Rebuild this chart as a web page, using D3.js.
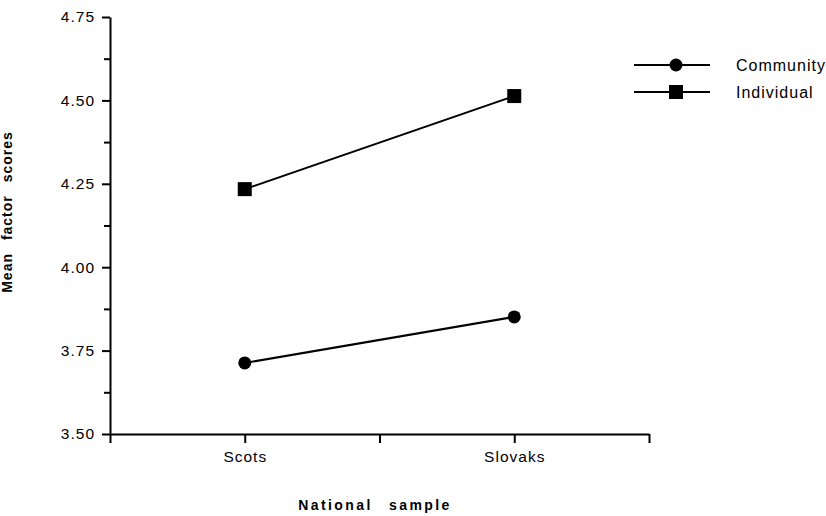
<!DOCTYPE html>
<html>
<head>
<meta charset="utf-8">
<script src="https://cdn.jsdelivr.net/npm/d3@7"></script>
<style>
  body { margin: 0; background: #fff; }
  text { font-family: "Liberation Sans", Arial, sans-serif; }
</style>
</head>
<body>
<div id="chart"></div>
<script>
// data
const categories = ["Scots", "Slovaks"];
const community = [3.713, 3.851];
const individual = [4.234, 4.513];
const seriesNames = ["Community", "Individual"];
const yTicks = [3.5, 3.75, 4.0, 4.25, 4.5, 4.75];
const yMinorTicks = [3.625, 3.875, 4.125, 4.375, 4.625];

const width = 826;
const height = 516;
const margin = { top: 17, right: 177, bottom: 82, left: 110 };

const svg = d3.select("#chart")
      .append("svg")
      .attr("width", width)
      .attr("height", height)

// x scale - categories sit at index 0 and 1, axis runs half a step beyond
const x = d3.scaleLinear()
        .domain([-0.5, 1.5])
        .range([margin.left, width - margin.right])

const y = d3.scaleLinear()
        .domain([3.5, 4.75])
        .range([height - margin.bottom, margin.top])

// x axis
const xAxis = g => g
        .attr("transform", `translate(0, ${height - margin.bottom})`)
        .call(d3.axisBottom(x)
          .tickValues([-0.5, 0, 0.5, 1, 1.5])
          .tickFormat(d => Number.isInteger(d) ? categories[d] : "")
          .tickSize(9)
          .tickPadding(8)
          .tickSizeOuter(0))
svg.append("g").call(xAxis)

// y axis (major)
const yAxis = g => g
        .attr("transform", `translate(${margin.left}, 0)`)
        .call(d3.axisLeft(y)
          .tickValues(yTicks)
          .tickFormat(d3.format(".2f"))
          .tickSize(8)
          .tickPadding(7)
          .tickSizeOuter(0))
svg.append("g").call(yAxis)

// y axis minor ticks
svg.append("g")
  .attr("transform", `translate(${margin.left}, 0)`)
  .call(d3.axisLeft(y).tickValues(yMinorTicks).tickSize(6).tickFormat(""))
  .call(g => g.select(".domain").remove())

svg.selectAll(".domain, .tick line")
  .attr("stroke", "#000")
  .attr("stroke-width", 2)

svg.selectAll(".tick text")
  .attr("font-family", "'Liberation Sans', Arial, sans-serif")
  .attr("font-size", 15.5)
  .attr("letter-spacing", 1)
  .attr("fill", "#000")

// lines
const line = d3.line()
        .x((d, i) => x(i))
        .y(d => y(d))

const series = [community, individual];

svg.append("g")
  .selectAll("path")
  .data(series)
  .join("path")
    .attr("d", line)
    .attr("fill", "none")
    .attr("stroke", "#000")
    .attr("stroke-width", 2)

// markers
const drawMarker = (sel, kind, cx, cy) => {
  if (kind === 0) {
    sel.append("circle")
      .attr("cx", cx).attr("cy", cy).attr("r", 6.5)
      .attr("fill", "#000")
  } else {
    sel.append("rect")
      .attr("x", cx - 7).attr("y", cy - 7)
      .attr("width", 14).attr("height", 14)
      .attr("fill", "#000")
  }
}

const markers = svg.append("g")
series.forEach((s, k) => {
  s.forEach((v, i) => drawMarker(markers, k, x(i), y(v)))
})

// legend
const legend = svg.append("g")
seriesNames.forEach((name, k) => {
  const ly = 65 + k * 27;
  legend.append("line")
    .attr("x1", 634).attr("x2", 710)
    .attr("y1", ly).attr("y2", ly)
    .attr("stroke", "#000")
    .attr("stroke-width", 2)
  drawMarker(legend, k, 676, ly)
  legend.append("text")
    .attr("x", 736)
    .attr("y", ly + 5.5)
    .attr("font-size", 16)
    .attr("letter-spacing", 1)
    .text(name)
})

// axis titles
svg.append("text")
  .attr("x", 375)
  .attr("y", 510)
  .attr("text-anchor", "middle")
  .attr("font-size", 14)
  .attr("font-weight", "bold")
  .attr("letter-spacing", 2.4)
  .attr("word-spacing", 10)
  .text("National sample")

// y title sits partly off the left edge, as in the scan
svg.append("text")
  .attr("transform", "translate(12, 212) rotate(-90)")
  .attr("text-anchor", "middle")
  .attr("font-size", 14)
  .attr("font-weight", "bold")
  .attr("letter-spacing", 1)
  .attr("word-spacing", 8)
  .text("Mean factor scores")
</script>
</body>
</html>
